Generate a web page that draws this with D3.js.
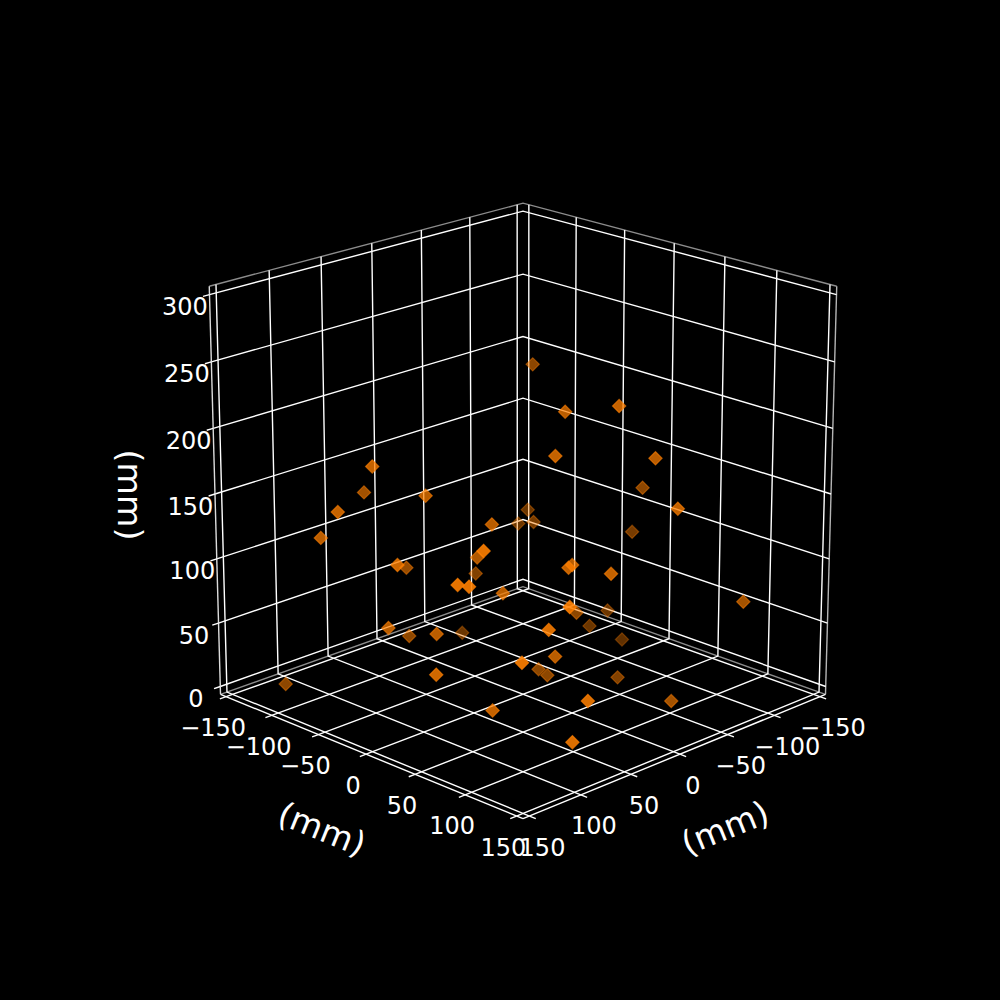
<!DOCTYPE html>
<html>
<head>
<meta charset="utf-8">
<script src="https://cdn.jsdelivr.net/npm/d3@7"></script>
<style>
  html, body { margin: 0; background: #000; }
  text { font-family: "DejaVu Sans", sans-serif; fill: #fff; }
</style>
</head>
<body>
<svg id="chart" width="1000" height="1000"></svg>
<script>
// marker positions in mm (depth estimated from the shading)
const xValues = [-54, -1, -13, 27, -38, -89, -25, -107, -71, -64, -57, 39, 22, 19, -89, 91, -33, -95, -83, -113, -58, 83, -35, 83, 55, 53, 123, 138, 61, -3, 141, 136, 61, 124, 57, 101, -15, 90, 46, 123, -4, -7, 137, 101, 97, 119, 84, 144, 146, 129];
const yValues = [-44, 41, 82, 59, 94, 34, 128, 7, -66, -69, -46, 84, 71, 106, 134, 136, 22, -6, -13, -8, 40, 146, 115, -14, 24, 7, 85, 15, -58, -52, 78, 84, 41, -10, -60, 15, -79, 115, 78, 122, 12, 18, 52, 71, 145, -30, -77, -39, -55, -115];
const zValues = [226, 222, 233, 200, 191, 141, 165, 95, 103, 93, 102, 126, 120, 122, 79, 125, 55, 32, 21, 3, 2, 56, 12, 166, 147, 117, 161, 136, 94, 74, 139, 138, 101, 78, 39, 74, 16, 102, 59, 89, 16, 12, 64, 32, 29, 193, 153, 163, 140, 6];

const xyTicks = [-150, -100, -50, 0, 50, 100, 150];
const zTicks = [0, 50, 100, 150, 200, 250, 300];
const xyLimits = [-156.25, 156.25];
const zLimits = [-6.25, 306.25];
const axisLabel = '(mm)';

// camera, same model as a 3d axes, eye 10 box units away
const elev = 19.5 * Math.PI / 180;
const azim = 45 * Math.PI / 180;
const eyeDist = 10;
const focal = 3960;
const centerX = 523;
const centerY = 494;
const boxSide = 1.1;
const boxHeight = 1.093;

const scaleX = d3.scaleLinear().domain(xyLimits).range([-boxSide / 2, boxSide / 2]);
const scaleY = d3.scaleLinear().domain(xyLimits).range([-boxSide / 2, boxSide / 2]);
const scaleZ = d3.scaleLinear().domain(zLimits).range([-boxHeight / 2, boxHeight / 2]);

// view coordinates of a data point: right, up and towards the eye
function toView(x, y, z) {
    const bx = scaleX(x), by = scaleY(y), bz = scaleZ(z);
    const forward = bx * Math.cos(azim) + by * Math.sin(azim);
    const right = by * Math.cos(azim) - bx * Math.sin(azim);
    return {
        u: right,
        v: bz * Math.cos(elev) - forward * Math.sin(elev),
        w: forward * Math.cos(elev) + bz * Math.sin(elev)
    };
}

function project(x, y, z) {
    const p = toView(x, y, z);
    const s = focal / (eyeDist - p.w);
    return [centerX + p.u * s, centerY - p.v * s];
}

const svg = d3.select('#chart');
const line = d3.line();
const [xMin, xMax] = xyLimits;
const [yMin, yMax] = xyLimits;
const [zMin, zMax] = zLimits;

function draw3d(g, pts, color, width) {
    g.append('path')
        .attr('d', line(pts.map(p => project(p[0], p[1], p[2]))))
        .attr('fill', 'none')
        .attr('stroke', color)
        .attr('stroke-width', width);
}

// pane edges
const paneG = svg.append('g');
const paneColor = '#8c8c8c';
draw3d(paneG, [[xMax, yMin, zMin], [xMin, yMin, zMin], [xMin, yMax, zMin]], paneColor, 1.4);
draw3d(paneG, [[xMax, yMin, zMax], [xMin, yMin, zMax], [xMin, yMax, zMax]], paneColor, 1.4);
draw3d(paneG, [[xMin, yMax, zMin], [xMin, yMax, zMax]], '#b4b4b4', 1.4);

// grid lines run along the floor and up the back walls
const gridG = svg.append('g');
const gridWidth = 1.4;
xyTicks.forEach(t => {
    draw3d(gridG, [[t, yMax, zMin], [t, yMin, zMin], [t, yMin, zMax]], '#fff', gridWidth);
    draw3d(gridG, [[xMax, t, zMin], [xMin, t, zMin], [xMin, t, zMax]], '#fff', gridWidth);
});
zTicks.forEach(t => {
    draw3d(gridG, [[xMax, yMin, t], [xMin, yMin, t], [xMin, yMax, t]], '#fff', gridWidth);
});

// axis lines and tick marks
const axisG = svg.append('g');
const tickOut = 6;
draw3d(axisG, [[xMax, yMin, zMin], [xMax, yMax, zMin]], '#fff', gridWidth);
draw3d(axisG, [[xMin, yMax, zMin], [xMax, yMax, zMin]], '#fff', gridWidth);
draw3d(axisG, [[xMax, yMin, zMin], [xMax, yMin, zMax]], '#dcdcdc', gridWidth);
xyTicks.forEach(t => {
    draw3d(axisG, [[xMax, t, zMin], [xMax + tickOut, t, zMin]], '#fff', gridWidth);
    draw3d(axisG, [[t, yMax, zMin], [t, yMax + tickOut, zMin]], '#fff', gridWidth);
});
zTicks.forEach(t => {
    draw3d(axisG, [[xMax, yMin, t], [xMax + tickOut, yMin, t]], '#fff', gridWidth);
});

// tick labels, shifted off the axis in screen pixels
const labelG = svg.append('g')
    .attr('font-size', 24)
    .attr('text-anchor', 'middle')
    .attr('dominant-baseline', 'central');
const fmt = v => String(v).replace('-', '\u2212');

function addTick(text, pos, dx, dy) {
    labelG.append('text')
        .attr('x', pos[0] + dx)
        .attr('y', pos[1] + dy)
        .text(text);
}
xyTicks.forEach(t => {
    addTick(fmt(t), project(xMax, t, zMin), -13, 31.5);
    addTick(fmt(t), project(t, yMax, zMin), 13, 31.5);
});
zTicks.forEach(t => {
    addTick(fmt(t), project(xMax, yMin, t), -24.5, 12.5);
});

// axis titles
[[322, 829, 22], [725, 828, -22], [129, 495, 90]].forEach(a => {
    svg.append('text')
        .attr('transform', `translate(${a[0]},${a[1]}) rotate(${a[2]})`)
        .attr('font-size', 33.3)
        .attr('text-anchor', 'middle')
        .attr('dominant-baseline', 'central')
        .text(axisLabel);
});

// markers, far ones first and faded by depth
const points = xValues.map((x, i) => ({ x: x, y: yValues[i], z: zValues[i], w: toView(x, yValues[i], zValues[i]).w }));
points.sort((a, b) => a.w - b.w);
const shade = d3.scaleLinear().domain(d3.extent(points, d => d.w)).range([0.42, 1]);
const diamond = d3.symbol().type(d3.symbolSquare).size(88);

svg.append('g').selectAll('path')
    .data(points)
    .join('path')
    .attr('d', diamond)
    .attr('transform', d => {
        const p = project(d.x, d.y, d.z);
        return `translate(${p[0]},${p[1]}) rotate(45)`;
    })
    .attr('fill', '#ff8000')
    .attr('fill-opacity', d => shade(d.w) * 0.9)
    .attr('stroke', '#ff8000')
    .attr('stroke-width', 1.2)
    .attr('stroke-opacity', d => shade(d.w) * 0.75);
</script>
</body>
</html>
